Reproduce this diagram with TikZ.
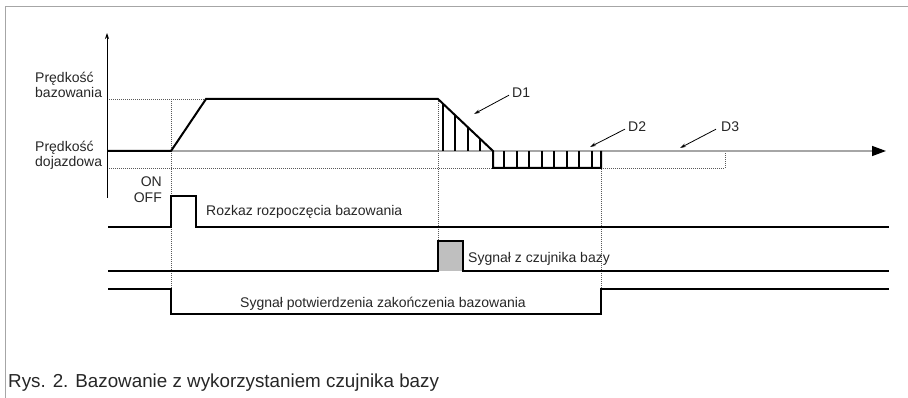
\documentclass[tikz,border=0pt]{standalone}
\usepackage{fontspec}
\setmainfont{Liberation Sans}
\usetikzlibrary{arrows.meta}
\begin{document}
\begin{tikzpicture}[x=1pt,y=-1pt,
  sig/.style={line width=2pt, line join=miter, line cap=butt},
  guide/.style={line width=0.7pt, black!65, dash pattern=on 1pt off 1pt},
  hatch/.style={line width=2pt},
  lbl/.style={font=\fontsize{14}{15}\selectfont, inner sep=0pt, text=black!85},
  ptr/.style={line width=0.8pt, -{Stealth[length=6pt,width=3.5pt]}},
  frame/.style={line width=1pt, black!35}]
\useasboundingbox (0,0) rectangle (908,398);
% frame
\draw[frame] (5,398) -- (5,7) -- (908,7);
% guides
\draw[guide] (107,99) -- (206,99);
\draw[guide] (107,168) -- (725,168) -- (725,151);
\draw[guide] (171,99) -- (171,314);
\draw[guide] (438,99) -- (438,240);
\draw[guide] (601,151) -- (601,289);
% axes
\draw[line width=0.8pt, -{Stealth[length=6pt,width=4pt]}] (107,198) -- (107,33);
\draw[black!35, line width=1.5pt, -{Triangle[length=14pt,width=10pt,color=black]}] (170,151) -- (886,151);
% speed profile
\draw[sig] (107,151) -- (171,151) -- (206,99) -- (438,99) -- (493,151) -- (493,168) -- (601,168) -- (601,151);
% hatches D1
\foreach \x in {443,455,468,480}
  \draw[hatch] (\x,{99+(\x-438)*52/55}) -- (\x,151);
% hatches D2
\foreach \x in {504,517,529,542,554,567,579,592}
  \draw[hatch] (\x,151) -- (\x,168);
% signals
\draw[sig] (108,227) -- (171,227) -- (171,196) -- (196,196) -- (196,227) -- (889,227);
\fill[black!25] (438,241) rectangle (463,271);
\draw[sig] (108,271) -- (438,271) -- (438,241) -- (463,241) -- (463,271) -- (889,271);
\draw[sig] (108,289) -- (171,289) -- (171,314) -- (601,314) -- (601,289) -- (889,289);
% labels
\node[lbl, anchor=base west, align=left] (vb) at (35,98) {Prędkość\\bazowania};
\node[lbl, anchor=base west, align=left] (vd) at (35,167) {Prędkość\\dojazdowa};
\node[lbl, anchor=base east, align=right, font=\fontsize{14}{16}\selectfont] (onoff) at (162,203) {ON\\OFF};
\node[lbl, anchor=base west] (rk) at (206,216) {Rozkaz rozpoczęcia bazowania};
\node[lbl, anchor=base west] (sc) at (468,262) {Sygnał z czujnika bazy};
\node[lbl, anchor=base] (sp) at (383,308) {Sygnał potwierdzenia zakończenia bazowania};
\node[lbl, anchor=base west] (d1) at (512,98) {D1};
\node[lbl, anchor=base west] (d2) at (628,132) {D2};
\node[lbl, anchor=base west] (d3) at (721,132) {D3};
\coordinate (d1t) at (474,114);
\coordinate (d2t) at (590,147);
\coordinate (d3t) at (680,148);
\draw[ptr] ([shift={(-3,2)}]d1.west) -- (d1t);
\draw[ptr] ([shift={(-3,2)}]d2.west) -- (d2t);
\draw[ptr] ([shift={(-5,2)}]d3.west) -- (d3t);
\node[anchor=base west, inner sep=0pt, font=\fontsize{18.8}{20}\selectfont, text=black!85] (cap) at (8,387) {Rys. 2. Bazowanie z wykorzystaniem czujnika bazy};
\end{tikzpicture}
\end{document}
